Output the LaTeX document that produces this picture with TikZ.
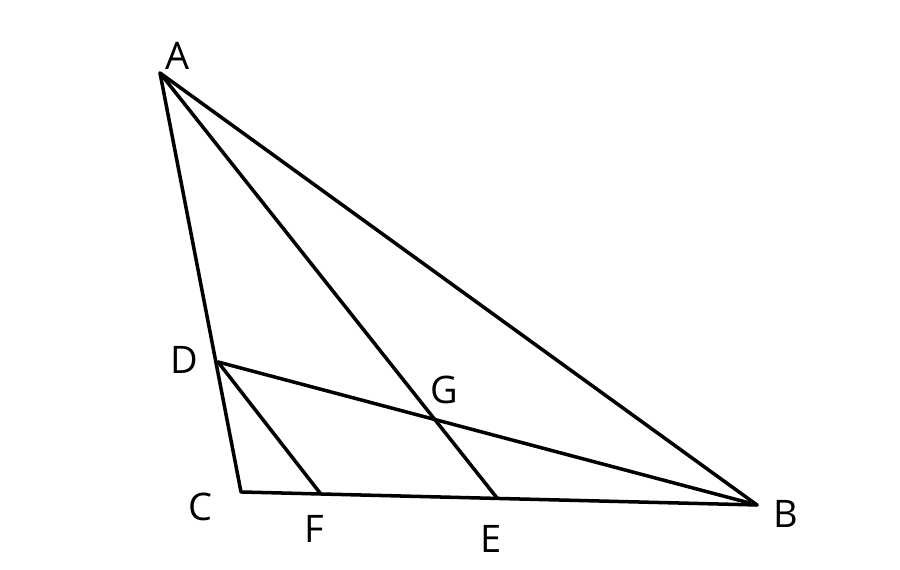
\documentclass[tikz,border=0pt]{standalone}
\usepackage{fontspec}
\setmainfont{Open Sans}
\usetikzlibrary{calc}
\tikzset{
	side/.style={line width=1pt, line cap=round, line join=round},
	vlabel/.style={inner sep=0pt, font=\fontsize{10.8}{12}\selectfont}
}

\begin{document}
\begin{tikzpicture}
		\useasboundingbox (0,0) rectangle (9,5.7);
		\coordinate (A) at (1.60,4.97);
		\coordinate (B) at (7.57,0.65);
		\coordinate (C) at (2.41,0.78);
		\coordinate (D) at (2.18,2.08);
		\coordinate (E) at (4.97,0.72);
		\coordinate (F) at (3.20,0.77);
		\coordinate (G) at (intersection of A--E and D--B);
		\draw[side] (A) -- (B) -- (C) -- cycle;
		\draw[side] (A) -- (E);
		\draw[side] (D) -- (B);
		\draw[side] (D) -- (F);
		\node[vlabel] (lA) at (1.78,5.145) {A};
		\node[vlabel] (lB) at (7.86,0.56) {B};
		\node[vlabel] (lC) at (2.00,0.63) {C};
		\node[vlabel] (lD) at (1.845,2.10) {D};
		\node[vlabel] (lE) at (4.915,0.315) {E};
		\node[vlabel] (lF) at (3.14,0.415) {F};
		\node[vlabel] (lG) at (4.445,1.80) {G};
	\end{tikzpicture}
\end{document}
